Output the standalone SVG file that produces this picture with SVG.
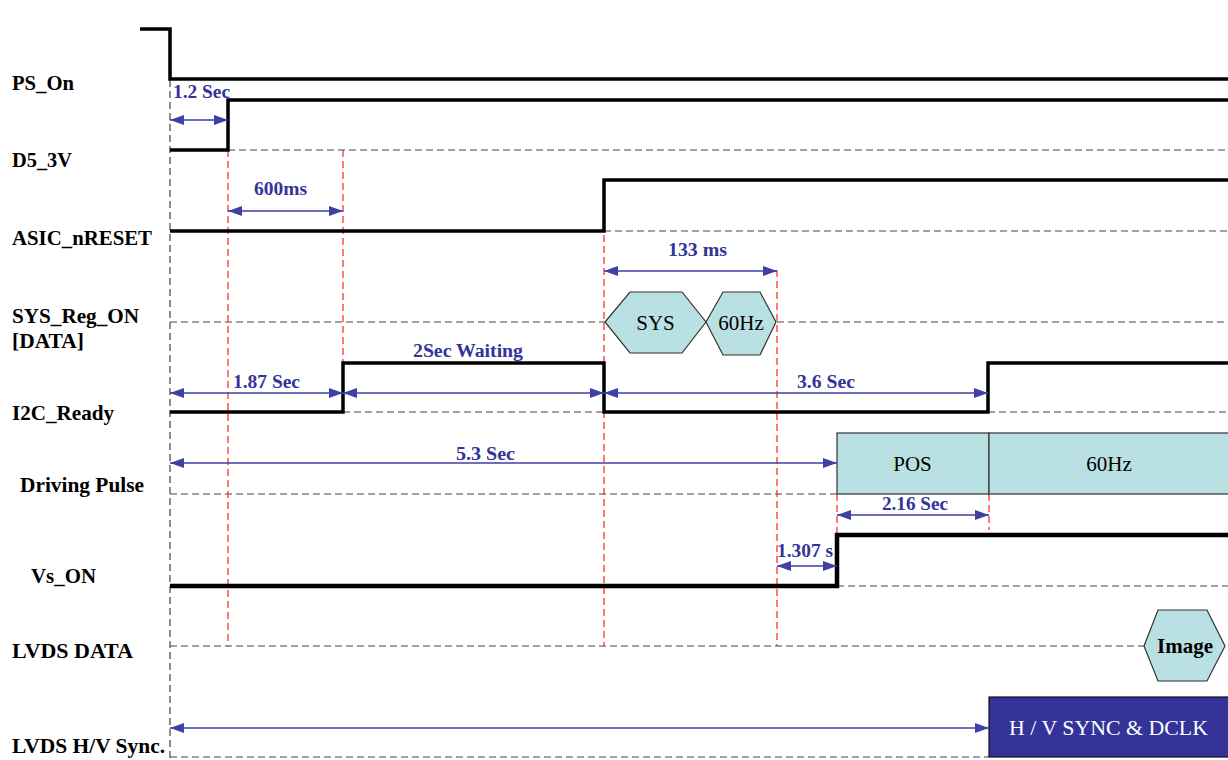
<svg xmlns="http://www.w3.org/2000/svg" width="1228" height="760" viewBox="0 0 1228 760">
<defs>
<style>
.lbl{font-weight:bold;font-size:21px;fill:#000}
.meas{font-weight:bold;font-size:18px;fill:#333399}
.box{font-size:21px;fill:#000}
.sig{fill:none;stroke:#000;stroke-width:3.5;stroke-linejoin:miter}
.grid{fill:none;stroke:#444;stroke-width:1.2;stroke-dasharray:7 4}
.red{fill:none;stroke:#ff2020;stroke-width:1.2;stroke-dasharray:7 4}
.arr{fill:none;stroke:#3f3fa6;stroke-width:1.6;marker-start:url(#ah);marker-end:url(#ah)}
.hex{fill:#b9e0e3;stroke:#333;stroke-width:1.2}
</style>
<marker id="ah" viewBox="0 0 14 10" refX="14" refY="5" markerWidth="14" markerHeight="10" markerUnits="userSpaceOnUse" orient="auto-start-reverse">
<path d="M0,0 L14,5 L0,10 Z" fill="#3f3fa6"/>
</marker>
</defs>
<rect width="1228" height="760" fill="#fff"/>

<g id="labels">
<text class="lbl" font-family="Liberation Serif" x="12" y="90" textLength="62" lengthAdjust="spacingAndGlyphs">PS_On</text>
<text class="lbl" font-family="Liberation Serif" x="12" y="167" textLength="60" lengthAdjust="spacingAndGlyphs">D5_3V</text>
<text class="lbl" font-family="Liberation Serif" x="12" y="245" textLength="140" lengthAdjust="spacingAndGlyphs">ASIC_nRESET</text>
<text class="lbl" font-family="Liberation Serif" x="12" y="323" textLength="127" lengthAdjust="spacingAndGlyphs">SYS_Reg_ON</text>
<text class="lbl" font-family="Liberation Serif" x="12" y="348" textLength="72" lengthAdjust="spacingAndGlyphs">[DATA]</text>
<text class="lbl" font-family="Liberation Serif" x="12" y="420" textLength="102" lengthAdjust="spacingAndGlyphs">I2C_Ready</text>
<text class="lbl" font-family="Liberation Serif" x="20" y="492" textLength="124" lengthAdjust="spacingAndGlyphs">Driving Pulse</text>
<text class="lbl" font-family="Liberation Serif" x="31" y="583" textLength="65" lengthAdjust="spacingAndGlyphs">Vs_ON</text>
<text class="lbl" font-family="Liberation Serif" x="12" y="658" textLength="121" lengthAdjust="spacingAndGlyphs">LVDS DATA</text>
<text class="lbl" font-family="Liberation Serif" x="12" y="753" textLength="153" lengthAdjust="spacingAndGlyphs">LVDS H/V Sync.</text>
</g>

<g id="grid">
<line class="grid" x1="170" y1="80" x2="170" y2="760"/>
<line class="grid" x1="228" y1="150" x2="1228" y2="150"/>
<line class="grid" x1="604" y1="231" x2="1228" y2="231"/>
<line class="grid" x1="170" y1="322" x2="605" y2="322"/>
<line class="grid" x1="777" y1="322" x2="1228" y2="322"/>
<line class="grid" x1="343" y1="412" x2="604" y2="412"/>
<line class="grid" x1="988" y1="412" x2="1228" y2="412"/>
<line class="grid" x1="170" y1="494" x2="837" y2="494"/>
<line class="grid" x1="837" y1="586" x2="1228" y2="586"/>
<line class="grid" x1="170" y1="646" x2="1144" y2="646"/>
<line class="grid" x1="170" y1="757" x2="989" y2="757"/>
</g>

<g id="markers-red">
<line class="red" x1="228" y1="150" x2="228" y2="646"/>
<line class="red" x1="343" y1="150" x2="343" y2="412"/>
<line class="red" x1="604" y1="180" x2="604" y2="646"/>
<line class="red" x1="777" y1="270" x2="777" y2="646"/>
<line class="red" x1="837" y1="494" x2="837" y2="535"/>
<line class="red" x1="989" y1="494" x2="989" y2="530"/>
</g>

<g id="sig-ps-on"><path class="sig" d="M140,29 H170 V79 H1228"/></g>
<g id="sig-d5-3v"><path class="sig" d="M170,150 H228 V100 H1228"/></g>
<g id="sig-asic-nreset"><path class="sig" d="M170,231 H604 V180 H1228"/></g>
<g id="sig-sys-reg-on">
<polygon class="hex" points="605,322 630,292 682,292 706,322 682,353 630,353"/>
<text class="box" font-family="Liberation Serif" x="655.5" y="330" text-anchor="middle">SYS</text>
<polygon class="hex" points="706,322 723,292 760,292 776,322 760,355 723,355"/>
<text class="box" font-family="Liberation Serif" x="741" y="330" text-anchor="middle">60Hz</text>
</g>
<g id="sig-i2c-ready"><path class="sig" d="M170,412 H343 V363 H604 V412 H988 V363 H1228"/></g>
<g id="sig-driving-pulse">
<rect x="837" y="433" width="152" height="61" fill="#b9e0e3" stroke="#333" stroke-width="1.2"/>
<rect x="989" y="433" width="245" height="61" fill="#b9e0e3" stroke="#333" stroke-width="1.2"/>
<text class="box" font-family="Liberation Serif" x="912.5" y="471" text-anchor="middle">POS</text>
<text class="box" font-family="Liberation Serif" x="1109" y="471" text-anchor="middle">60Hz</text>
</g>
<g id="sig-vs-on"><path class="sig" style="stroke-width:4.5" d="M170,586 H837 V535 H1228"/></g>
<g id="sig-lvds-data">
<polygon class="hex" points="1144,646 1158,610 1207,610 1225,646 1207,681 1158,681"/>
<text class="box" font-family="Liberation Serif" x="1185" y="653" text-anchor="middle" font-weight="bold">Image</text>
</g>
<g id="sig-lvds-hv">
<rect x="989" y="697" width="245" height="60" fill="#333399" stroke="#111" stroke-width="1.2"/>
<text class="box" font-family="Liberation Serif" x="1108.5" y="735" text-anchor="middle" style="fill:#fff" textLength="199" lengthAdjust="spacingAndGlyphs">H / V SYNC &amp; DCLK</text>
</g>

<g id="connectors">
<line class="arr" x1="170" y1="120" x2="228" y2="120"/>
<line class="arr" x1="228" y1="211" x2="343" y2="211"/>
<line class="arr" x1="604" y1="271" x2="777" y2="271"/>
<line class="arr" x1="170" y1="393" x2="343" y2="393"/>
<line class="arr" x1="343" y1="393" x2="604" y2="393"/>
<line class="arr" x1="604" y1="393" x2="988" y2="393"/>
<line class="arr" x1="170" y1="463" x2="837" y2="463"/>
<line class="arr" x1="837" y1="515" x2="989" y2="515"/>
<line class="arr" x1="777" y1="566" x2="837" y2="566"/>
<line class="arr" x1="170" y1="728" x2="989" y2="728"/>
</g>

<g id="measure-labels">
<text class="meas" font-family="'Liberation Serif', serif" x="173" y="98" textLength="57" lengthAdjust="spacingAndGlyphs">1.2 Sec</text>
<text class="meas" font-family="'Liberation Serif', serif" x="254" y="195" textLength="53" lengthAdjust="spacingAndGlyphs">600ms</text>
<text class="meas" font-family="'Liberation Serif', serif" x="668" y="256" textLength="59" lengthAdjust="spacingAndGlyphs">133 ms</text>
<text class="meas" font-family="'Liberation Serif', serif" x="413" y="357" textLength="110" lengthAdjust="spacingAndGlyphs">2Sec Waiting</text>
<text class="meas" font-family="'Liberation Serif', serif" x="233" y="388" textLength="67" lengthAdjust="spacingAndGlyphs">1.87 Sec</text>
<text class="meas" font-family="'Liberation Serif', serif" x="797" y="388" textLength="58" lengthAdjust="spacingAndGlyphs">3.6 Sec</text>
<text class="meas" font-family="'Liberation Serif', serif" x="456" y="460" textLength="59" lengthAdjust="spacingAndGlyphs">5.3 Sec</text>
<text class="meas" font-family="'Liberation Serif', serif" x="882" y="510" textLength="66" lengthAdjust="spacingAndGlyphs">2.16 Sec</text>
<text class="meas" font-family="'Liberation Serif', serif" x="777" y="557" textLength="56" lengthAdjust="spacingAndGlyphs">1.307 s</text>
</g>
</svg>
